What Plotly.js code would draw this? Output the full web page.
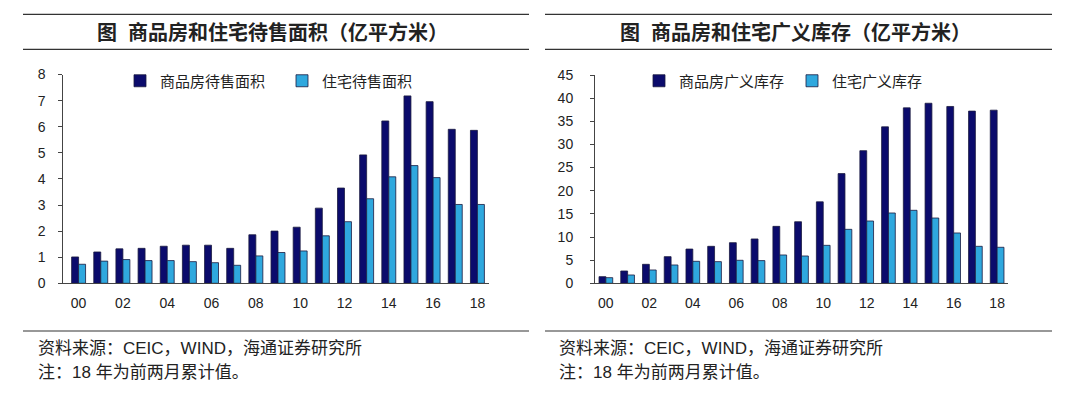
<!DOCTYPE html>
<html>
<head>
<meta charset="utf-8">
<script src="https://cdn.plot.ly/plotly-3.0.1.min.js"></script>
<style>
  html, body { margin: 0; padding: 0; background: #fff; }
  #chart { width: 1080px; height: 419px; }
</style>
</head>
<body>
<div id="chart"></div>
<script>
// ---- Data ----
const years = ['00','01','02','03','04','05','06','07','08','09','10','11','12','13','14','15','16','17','18'];
const tickYears = ['00','02','04','06','08','10','12','14','16','18'];

// Left chart: 待售面积 (亿平方米)
const commercialUnsold = [1.01, 1.20, 1.32, 1.34, 1.42, 1.46, 1.46, 1.34, 1.86, 2.00, 2.15, 2.88, 3.65, 4.92, 6.22, 7.18, 6.96, 5.90, 5.86];
const residentialUnsold = [0.73, 0.85, 0.91, 0.87, 0.87, 0.83, 0.79, 0.69, 1.05, 1.18, 1.24, 1.82, 2.36, 3.24, 4.08, 4.51, 4.05, 3.02, 3.02];

// Right chart: 广义库存 (亿平方米)
const commercialBroad = [1.44, 2.66, 4.10, 5.76, 7.40, 7.99, 8.78, 9.58, 12.30, 13.30, 17.60, 23.70, 28.65, 33.80, 37.90, 38.90, 38.20, 37.20, 37.40];
const residentialBroad = [1.22, 1.80, 2.88, 3.96, 4.75, 4.68, 4.97, 4.90, 6.12, 5.90, 8.20, 11.66, 13.46, 15.19, 15.77, 14.10, 10.87, 7.99, 7.78];

const seriesNames = {
  left: ['商品房待售面积', '住宅待售面积'],
  right: ['商品房广义库存', '住宅广义库存']
};
const titles = ['图  商品房和住宅待售面积（亿平方米）', '图  商品房和住宅广义库存（亿平方米）'];
const sourceText = '资料来源：CEIC，WIND，海通证券研究所';
const noteText = '注：18 年为前两月累计值。';
const boundaryTicks = [1.5, 3.5, 5.5, 7.5, 9.5, 11.5, 13.5, 15.5, 17.5];

// ---- Style ----
const W = 1080, H = 419;
const DARK = '#0b0b6c', LIGHT = '#2fa8de', OUTLINE = '#1a1a40';
const AXIS = '#444444';
const NUM_FONT = 'Liberation Sans, Arial, sans-serif';
const CJK_FONT = 'Liberation Sans, Noto Sans CJK SC, sans-serif';
const px = v => v / W;
const py = v => 1 - v / H;

const barStyle = (c) => ({ color: c, line: { color: OUTLINE, width: 0.8 } });

const traces = [
  { type: 'bar', x: years, y: commercialUnsold, name: seriesNames.left[0], marker: barStyle(DARK), xaxis: 'x', yaxis: 'y', legend: 'legend', hoverinfo: 'x+y' },
  { type: 'bar', x: years, y: residentialUnsold, name: seriesNames.left[1], marker: barStyle(LIGHT), xaxis: 'x', yaxis: 'y', legend: 'legend', hoverinfo: 'x+y' },
  { type: 'bar', x: years, y: commercialBroad, name: seriesNames.right[0], marker: barStyle(DARK), xaxis: 'x2', yaxis: 'y2', legend: 'legend2', hoverinfo: 'x+y' },
  { type: 'bar', x: years, y: residentialBroad, name: seriesNames.right[1], marker: barStyle(LIGHT), xaxis: 'x2', yaxis: 'y2', legend: 'legend2', hoverinfo: 'x+y' }
];

const tickFont = { family: NUM_FONT, size: 14, color: '#222' };

function catAxis(domain, range, anchor) {
  return {
    type: 'category', domain: domain, range: range, anchor: anchor,
    categoryorder: 'array', categoryarray: years,
    tickmode: 'array', tickvals: tickYears, ticktext: tickYears,
    ticks: '', showgrid: false, zeroline: false,
    showline: true, linecolor: AXIS, linewidth: 1,
    tickfont: tickFont, ticklabelstandoff: 7, fixedrange: true
  };
}
function tickAxis(overlay, range, anchor) {
  return {
    overlaying: overlay, anchor: anchor, side: 'bottom', range: range,
    tickmode: 'array', tickvals: boundaryTicks, ticks: 'outside', ticklen: 5,
    tickcolor: AXIS, tickwidth: 1, showticklabels: false, showgrid: false,
    zeroline: false, showline: false, fixedrange: true
  };
}
function valAxis(domain, range, dtick, anchor, standoff) {
  return {
    domain: domain, range: range, anchor: anchor, dtick: dtick, tick0: 0,
    ticks: 'outside', ticklen: 4, tickcolor: AXIS, tickwidth: 1,
    showgrid: false, zeroline: false, showline: true, linecolor: AXIS, linewidth: 1,
    tickfont: tickFont, ticklabelstandoff: standoff, fixedrange: true
  };
}

const leftX = [px(63.3), px(488.5)], rightX = [px(595), px(1008)];
const leftRange = [-0.69, 18.5], rightRange = [-0.5, 18.5];

const ruleLine = (x0, x1, y) => ({ type: 'line', xref: 'paper', yref: 'paper', x0: px(x0), x1: px(x1), y0: py(y), y1: py(y), line: { color: '#333', width: 1.2 } });

const textAnn = (text, x, y, anchor, size, weight) => ({
  text: text, xref: 'paper', yref: 'paper', x: px(x), y: py(y), xanchor: anchor, yanchor: 'middle',
  showarrow: false, font: { family: CJK_FONT, size: size, color: '#222', weight: weight || 'normal' }
});

const legendBase = (x, ew) => ({
  orientation: 'h', x: px(x), y: py(81), xanchor: 'left', yanchor: 'middle',
  bgcolor: 'rgba(0,0,0,0)', borderwidth: 0, traceorder: 'normal',
  entrywidth: ew, entrywidthmode: 'pixels',
  font: { family: CJK_FONT, size: 15, color: '#222' },
  itemclick: false, itemdoubleclick: false
});

const layout = {
  width: W, height: H,
  margin: { l: 0, r: 0, t: 0, b: 0 },
  paper_bgcolor: '#ffffff', plot_bgcolor: 'rgba(0,0,0,0)',
  barmode: 'group', bargap: 0.37, bargroupgap: 0,
  showlegend: true,
  xaxis: catAxis(leftX, leftRange, 'y'),
  yaxis: valAxis([py(283.3), py(74.5)], [0, 8], 1, 'x', 10),
  xaxis2: catAxis(rightX, rightRange, 'y2'),
  yaxis2: valAxis([py(283.3), py(75)], [0, 45], 5, 'x2', 14),
  xaxis3: tickAxis('x', leftRange, 'y'),
  xaxis4: tickAxis('x2', rightRange, 'y2'),
  legend: legendBase(120, 117),
  legend2: legendBase(639, 108),
  shapes: [
    ruleLine(23, 529, 14.3), ruleLine(23, 529, 49.3), ruleLine(23, 529, 331),
    ruleLine(545, 1052, 14.3), ruleLine(545, 1052, 49.3), ruleLine(545, 1052, 331)
  ],
  annotations: [
    textAnn(titles[0], 272, 32, 'center', 20, 'bold'),
    textAnn(titles[1], 795, 32, 'center', 20, 'bold'),
    textAnn(sourceText, 36, 348, 'left', 17),
    textAnn(noteText, 36, 372, 'left', 17),
    textAnn(sourceText, 557, 348, 'left', 17),
    textAnn(noteText, 557, 372, 'left', 17)
  ]
};

Plotly.newPlot('chart', traces, layout, { displayModeBar: false, staticPlot: true });
</script>
</body>
</html>
